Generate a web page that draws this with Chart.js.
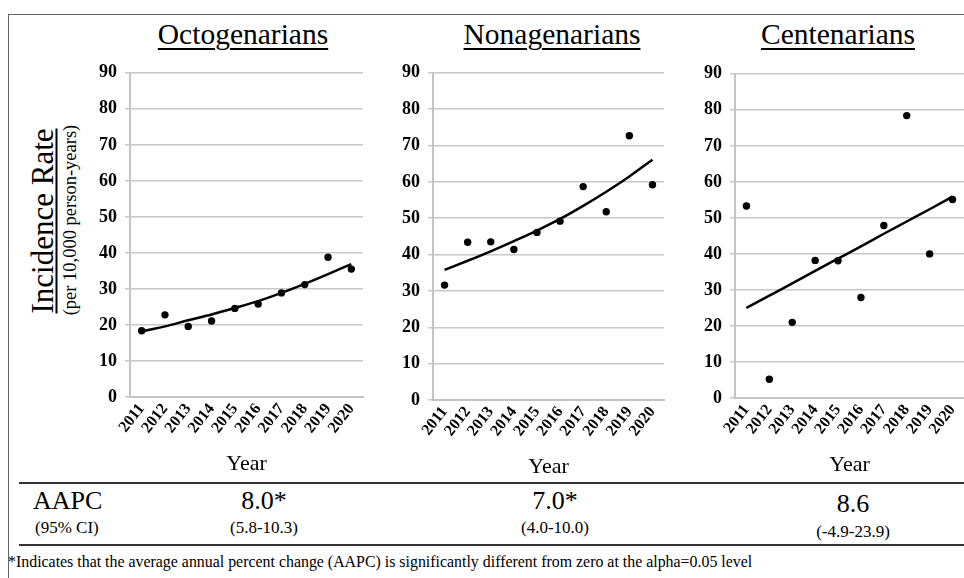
<!DOCTYPE html>
<html><head><meta charset="utf-8">
<script src="https://cdn.jsdelivr.net/npm/chart.js@4.4.1/dist/chart.umd.min.js"></script>
<style>
html,body{margin:0;padding:0}
body{width:964px;height:578px;background:#fff;position:relative;overflow:hidden;font-family:"Liberation Serif","Times New Roman",serif;color:#000}
.t{position:absolute;white-space:nowrap;line-height:1}
.ln{position:absolute}
canvas{position:absolute}
</style></head><body>
<script>
// ---- data ----
const years = ['2011','2012','2013','2014','2015','2016','2017','2018','2019','2020'];
const octoRates = [18.4, 22.8, 19.6, 21.1, 24.6, 25.8, 28.9, 31.2, 38.8, 35.5];
const octoTrend = [18.2, 19.6, 21.3, 22.9, 24.7, 26.6, 28.9, 31.4, 34.1, 36.9];
const nonaRates = [31.6, 43.4, 43.5, 41.4, 46.1, 49.2, 58.7, 51.8, 72.7, 59.2];
const nonaTrend = [35.8, 38.3, 40.9, 43.7, 46.6, 49.8, 53.4, 57.3, 61.5, 66.1];
const centRates = [53.3, 5.2, 21.0, 38.2, 38.1, 27.9, 47.9, 78.4, 40.0, 55.1];
const centTrend = [25.0, 28.4, 31.8, 35.3, 38.7, 42.1, 45.6, 49.0, 52.4, 55.9];
const panelTitles = ['Octogenarians', 'Nonagenarians', 'Centenarians'];
const aapcValues = ['8.0*', '7.0*', '8.6'];
const aapcCI = ['(5.8-10.3)', '(4.0-10.0)', '(-4.9-23.9)'];
const yMin = 0, yMax = 90, yStep = 10;

const FONT = '"Liberation Serif","Times New Roman",serif';
const root = document.body;

function text(str, x, baseline, size, opts) {
  opts = opts || {};
  const d = document.createElement('div');
  d.className = 't';
  d.textContent = str;
  d.style.fontSize = size + 'px';
  d.style.top = (baseline - 0.8375 * size) + 'px';
  d.style.left = x + 'px';
  if (opts.center) d.style.transform = 'translateX(-50%)';
  if (opts.underline) {
    d.style.textDecoration = 'underline';
    d.style.textUnderlineOffset = (opts.uoff || 4) + 'px';
    d.style.textDecorationThickness = (opts.uth || 1.5) + 'px';
  }
  root.appendChild(d);
  return d;
}
function line(x, y, w, h, c) {
  const d = document.createElement('div');
  d.className = 'ln';
  Object.assign(d.style, {left: x + 'px', top: y + 'px', width: w + 'px', height: h + 'px', background: c});
  root.appendChild(d);
}

// frame
line(7.5, 13.5, 957, 1.5, '#666');
line(7.5, 13.5, 1.5, 570, '#666');
// table rules
line(19, 481.5, 945, 2, '#333');
line(19, 543.5, 945, 2, '#333');

// panel titles
const titleCenters = [243, 552, 838];
panelTitles.forEach((t, i) => text(t, titleCenters[i], 45, 29.5, {center: true, underline: true, uoff: 4, uth: 1.5}));

// y-axis title (rotated)
function rotText(str, cx, cy, size, underline) {
  const d = document.createElement('div');
  d.className = 't';
  d.textContent = str;
  d.style.fontSize = size + 'px';
  d.style.left = cx + 'px';
  d.style.top = cy + 'px';
  d.style.transform = 'translate(-50%,-50%) rotate(-90deg)';
  if (underline) {
    d.style.textDecoration = 'underline';
    d.style.textUnderlineOffset = '3px';
    d.style.textDecorationThickness = '1.5px';
  }
  root.appendChild(d);
}
rotText('Incidence Rate', 42, 221, 31, true);
rotText('(per 10,000 person-years)', 70, 220, 18.5, false);

// table text
text('AAPC', 33, 510, 26);
text('(95% CI)', 35, 533, 17);
const valCenters = [264, 555, 853];
const valBase = [510, 510, 513];
const ciBase = [533, 533, 537];
aapcValues.forEach((v, i) => text(v, valCenters[i], valBase[i], 26, {center: true}));
aapcCI.forEach((v, i) => text(v, valCenters[i], ciBase[i], 17, {center: true}));

// footnote
text('*Indicates that the average annual percent change (AAPC) is significantly different from zero at the alpha=0.05 level', 8, 567, 15.9);

// ---- charts ----
function makePanel(area, rates, trend) {
  const padTop = 10, padRight = 7, yW = 50, xH = 82;
  const c = document.createElement('canvas');
  const w = area.r - area.l + yW + padRight;
  const h = area.b - area.t + padTop + xH;
  c.width = w; c.height = h;
  c.style.left = (area.l - yW) + 'px';
  c.style.top = (area.t - padTop) + 'px';
  c.style.width = w + 'px'; c.style.height = h + 'px';
  root.appendChild(c);
  new Chart(c.getContext('2d'), {
    type: 'line',
    data: {
      labels: years,
      datasets: [
        {data: rates, showLine: false, pointRadius: 3.7, pointBackgroundColor: '#000', pointBorderWidth: 0, order: 1},
        {data: trend, borderColor: '#000', borderWidth: 2.5, pointRadius: 0, cubicInterpolationMode: 'monotone', fill: false, order: 2}
      ]
    },
    options: {
      responsive: false, animation: false, devicePixelRatio: 1,
      layout: {padding: {left: 0, top: padTop, right: padRight, bottom: 0}},
      plugins: {legend: {display: false}, tooltip: {enabled: false}},
      scales: {
        x: {
          offset: true,
          grid: {display: false, drawTicks: false},
          border: {display: true, color: '#c4c4c4', width: 2},
          ticks: {color: '#000', font: {family: FONT, size: 16, weight: 'bold'}, minRotation: 52, maxRotation: 52, autoSkip: false, padding: 3},
          title: {display: true, text: 'Year', color: '#000', font: {family: FONT, size: 22}, padding: {top: 0, bottom: 2}},
          afterFit: s => { s.height = xH; }
        },
        y: {
          min: yMin, max: yMax,
          ticks: {stepSize: yStep, color: '#000', font: {family: FONT, size: 18, weight: 'bold'}, padding: 8},
          grid: {color: '#c8c8c8', lineWidth: 1.5, tickLength: 5},
          border: {display: true, color: '#c4c4c4', width: 2},
          afterFit: s => { s.width = yW; }
        }
      }
    }
  });
}
makePanel({l: 130, t: 64, r: 363, b: 397}, octoRates, octoTrend);
makePanel({l: 433, t: 63.5, r: 664, b: 400}, nonaRates, nonaTrend);
makePanel({l: 735, t: 64.5, r: 964, b: 398}, centRates, centTrend);
</script>
</body></html>
